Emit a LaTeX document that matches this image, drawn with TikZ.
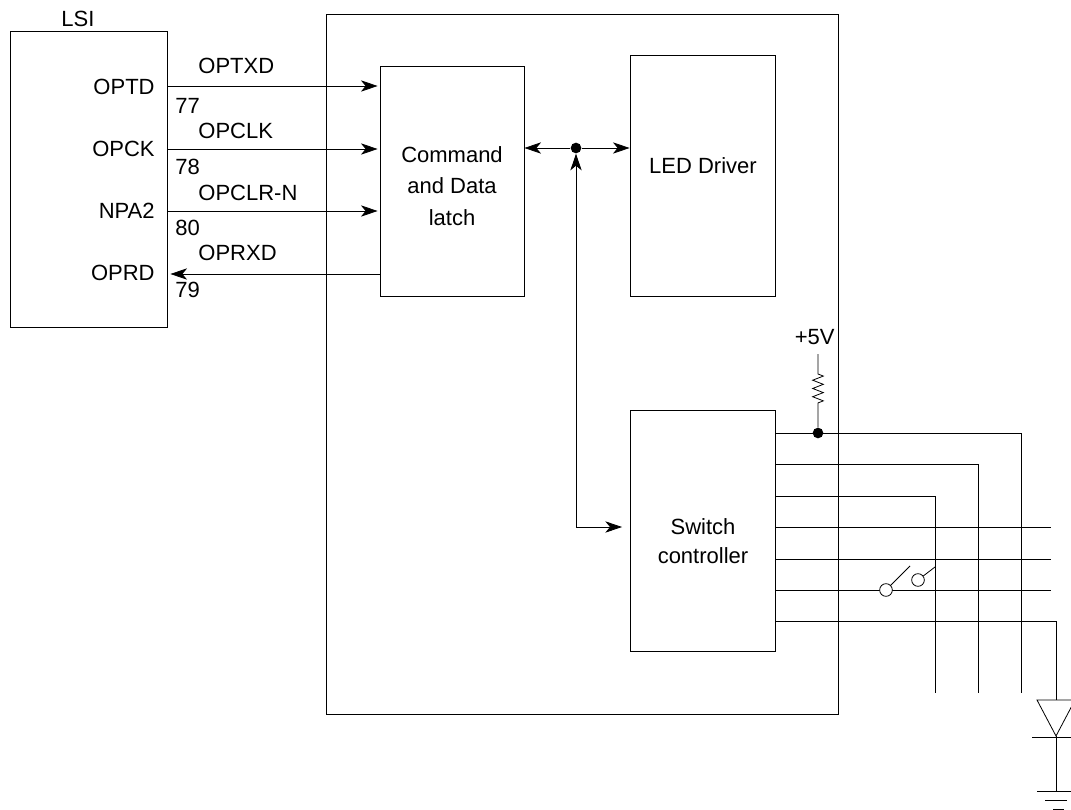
\documentclass[tikz,border=0pt]{standalone}
\usepackage{fontspec}
\setmainfont{Liberation Sans}
\usetikzlibrary{arrows.meta,decorations.pathmorphing}
\tikzset{
  >={Stealth[length=12.5pt,width=8.5pt,inset=3.5pt]},
  block/.style={draw,rectangle,inner sep=0pt},
  lbl/.style={inner sep=0pt,font=\fontsize{16.5}{23.6}\selectfont},
  dot/.style={circle,fill,inner sep=0pt,minimum size=8pt},
  contact/.style={circle,draw,inner sep=0pt,minimum size=9.5pt},
  resistor/.style={decorate,decoration={zigzag,amplitude=4pt,segment length=6.2pt,pre length=15pt,post length=18pt}}
}
\begin{document}
\begin{tikzpicture}[x=0.75pt,y=-0.75pt,line width=0.6pt]
\useasboundingbox (0,0) rectangle (1071,810);
\node[block,minimum width=117.75pt,minimum height=222pt](lsi) at (88.5,179) {};
\node[block,minimum width=384pt,minimum height=525pt](main) at (582,364) {};
\node[block,minimum width=108pt,minimum height=172.5pt](latch) at (452,181) {};
\node[lbl,align=center](latchtext) at (452,186) {Command\\and Data\\latch};
\node[block,minimum width=108.75pt,minimum height=180.75pt](led) at (702.5,175.5) {};
\node[lbl](ledtext) at (703,165.5) {LED Driver};
\node[block,minimum width=108.75pt,minimum height=180.75pt](sw) at (702.5,531) {};
\node[lbl,align=center](swtext) at (703,541) {Switch\\[-1.6pt]controller};

\node[lbl](lsitext) at (78,19) {LSI};
\node[lbl,anchor=east](optd) at (155,87) {OPTD};
\node[lbl,anchor=east](opck) at (155,149) {OPCK};
\node[lbl,anchor=east](npa) at (155,211) {NPA2};
\node[lbl,anchor=east](oprd) at (155,273) {OPRD};
\node[lbl,anchor=west](txd) at (198,66) {OPTXD};
\node[lbl,anchor=west](clk) at (198,131) {OPCLK};
\node[lbl,anchor=west](clr) at (198,193) {OPCLR-N};
\node[lbl,anchor=west](rxd) at (198,253) {OPRXD};
\node[lbl,anchor=west](p77) at (175,106) {77};
\node[lbl,anchor=west](p78) at (175,167) {78};
\node[lbl,anchor=west](p80) at (175,228) {80};
\node[lbl,anchor=west](p79) at (175,290) {79};

\draw [->,shorten >=1.5pt] (lsi.east |- 0,86) -- (latch.west |- 0,86);
\draw [->,shorten >=1.5pt] (lsi.east |- 0,149) -- (latch.west |- 0,149);
\draw [->,shorten >=1.5pt] (lsi.east |- 0,211) -- (latch.west |- 0,211);
\draw [->,shorten >=2.25pt] (latch.west |- 0,274) -- (lsi.east |- 0,274);

\node[dot](bus) at (576,148) {};
\coordinate (swin) at (622,527);
\draw [->] (bus) -- (latch.east |- bus);
\draw [->] (bus) -- (led.west |- bus);
\draw [<->] (bus) |- (swin);

\node[lbl,anchor=east](vcc) at (835,337) {+5V};
\node[dot](pull) at (818,433) {};
\coordinate (rtop) at (818,354);
\draw [resistor] (rtop) -- (pull);

\coordinate (c1) at (1021,693);
\coordinate (c2) at (978,693);
\coordinate (c3) at (935,693);
\coordinate (r1) at (1051,527);
\coordinate (r2) at (1051,559);
\coordinate (r3) at (1051,590);
\coordinate (ledin) at (1056,700);
\draw (sw.east |- pull) -| (c1);
\draw (sw.east |- 0,464) -| (c2);
\draw (sw.east |- 0,496) -| (c3);
\draw (sw.east |- r1) -- (r1);
\draw (sw.east |- r2) -- (r2);
\draw (sw.east |- r3) -- (r3);
\draw (sw.east |- 0,621) -| (ledin);

\node[contact,fill=white](k1) at (886,590) {};
\node[contact](k2) at (918,580) {};
\coordinate (k1end) at (910,566);
\coordinate (k2end) at (935,567);
\draw (k1) -- (k1end);
\draw (k2) -- (k2end);

\coordinate (apex) at (1056,736);
\coordinate (gnd) at (1056,791);
\draw (1037,700) -- (1075,700) -- (apex) -- cycle;
\draw (1032,737) -- (1080,737);
\draw (apex) -- (gnd);
\draw (1037,791) -- (1075,791);
\draw (1045,800) -- (1067,800);
\draw (1053,809) -- (1064,809);
\end{tikzpicture}
\end{document}
